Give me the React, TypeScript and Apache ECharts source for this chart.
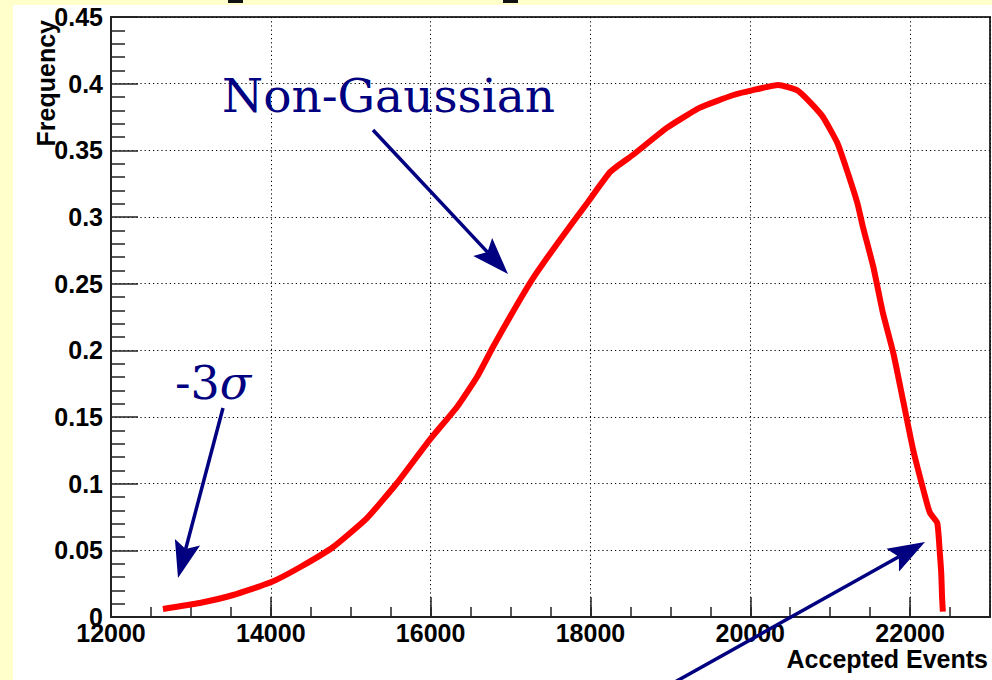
import React, { useEffect, useRef } from "react";
import * as echarts from "echarts";

// ---- data ----
const acceptedEvents = [
  12650, 13110, 13530, 14000, 14370, 14780, 15200, 15580, 15990, 16330, 16580,
  16780, 17030, 17280, 17620, 17960, 18250, 18530, 18960, 19370, 19790, 20020,
  20350, 20590, 20750, 20910, 21090, 21210, 21340, 21410, 21540, 21660, 21790,
  21910, 22040, 22210, 22250, 22340, 22370, 22390, 22400, 22410,
];
const frequency = [
  0.006, 0.0105, 0.0165, 0.026, 0.0375, 0.0525, 0.074, 0.1005, 0.133, 0.1575,
  0.18, 0.2025, 0.229, 0.254, 0.283, 0.3105, 0.334, 0.3465, 0.367, 0.382,
  0.3915, 0.395, 0.399, 0.395, 0.386, 0.375, 0.3555, 0.335, 0.3105, 0.2925,
  0.2625, 0.228, 0.198, 0.163, 0.125, 0.0855, 0.078, 0.0705, 0.05, 0.033, 0.015,
  0.004,
];
const xMajorTicks = [12000, 14000, 16000, 18000, 20000, 22000];
const xRange = [12000, 23000];
const xMinorStep = 500;
const yMajorTicks = [0, 0.05, 0.1, 0.15, 0.2, 0.25, 0.3, 0.35, 0.4, 0.45];
const xTitle = "Accepted Events";
const yTitle = "Frequency";
const annotationMain = "Non-Gaussian";

const NAVY = "#000080";
const AXIS = "#222";
const SANS = "'Liberation Sans', Arial, Helvetica, sans-serif";
const SERIF = "'DejaVu Serif', serif";

function arrow(x1: number, y1: number, x2: number, y2: number) {
  const headLen = 37;
  const halfW = 13;
  const notch = 7;
  const dx = x2 - x1;
  const dy = y2 - y1;
  const L = Math.hypot(dx, dy);
  const ux = dx / L;
  const uy = dy / L;
  const px = -uy;
  const py = ux;
  const bx = x2 - ux * headLen;
  const by = y2 - uy * headLen;
  const nx = x2 - ux * (headLen - notch);
  const ny = y2 - uy * (headLen - notch);
  return [
    {
      type: "line",
      z: 100,
      shape: { x1, y1, x2: nx, y2: ny },
      style: { stroke: NAVY, lineWidth: 3.5 },
    },
    {
      type: "polygon",
      z: 100,
      shape: {
        points: [
          [x2, y2],
          [bx + px * halfW, by + py * halfW],
          [nx, ny],
          [bx - px * halfW, by - py * halfW],
        ],
      },
      style: { fill: NAVY },
    },
  ];
}

export default function App() {
  const ref = useRef<HTMLDivElement>(null);
  useEffect(() => {
    if (!ref.current) return;
    const chart = echarts.init(ref.current, undefined, { renderer: "svg" });
    const data = acceptedEvents.map((x, i) => [x, frequency[i]]);
    const labelStyle = {
      fontFamily: SANS,
      fontWeight: "bold" as const,
      fontSize: 25,
      color: "#000",
    };
    const gridBox = {
      left: 111,
      top: 17,
      right: 2,
      bottom: 63,
      containLabel: false,
      outerBoundsMode: "none",
    };
    chart.setOption({
      animation: false,
      backgroundColor: "transparent",
      grid: [
        {
          ...gridBox,
          show: true,
          borderColor: "#333",
          borderWidth: 2,
          backgroundColor: "transparent",
        },
        { ...gridBox, show: false },
      ],
      xAxis: [
        {
          type: "value",
          gridIndex: 0,
          position: "bottom",
          min: xRange[0],
          max: xRange[1],
          interval: xMajorTicks[1] - xMajorTicks[0],
          axisLine: { show: true, onZero: false, lineStyle: { color: AXIS, width: 2 } },
          axisTick: { show: true, inside: true, length: 20, lineStyle: { color: AXIS, width: 1.5 } },
          axisLabel: {
            ...labelStyle,
            margin: 3,
            showMaxLabel: false,
            formatter: (v: number) => (xMajorTicks.includes(v) ? String(v) : ""),
          },
          splitLine: { show: true, lineStyle: { color: "#000", width: 1, type: [1.2, 3] } },
        },
        {
          type: "value",
          gridIndex: 1,
          position: "bottom",
          min: xRange[0],
          max: xRange[1],
          interval: xMinorStep,
          axisLine: { show: true, onZero: false, lineStyle: { color: AXIS, width: 2 } },
          axisTick: { show: true, inside: true, length: 10, lineStyle: { color: AXIS, width: 1.5 } },
          axisLabel: { show: false },
          splitLine: { show: false },
        },
      ],
      yAxis: [
        {
          type: "value",
          gridIndex: 0,
          min: yMajorTicks[0],
          max: yMajorTicks[yMajorTicks.length - 1],
          interval: yMajorTicks[1] - yMajorTicks[0],
          axisLine: { show: true, onZero: false, lineStyle: { color: AXIS, width: 2 } },
          axisTick: { show: true, inside: true, length: 27, lineStyle: { color: AXIS, width: 1.5 } },
          minorTick: { show: true, splitNumber: 5, length: 14, lineStyle: { color: AXIS, width: 1.5 } },
          axisLabel: {
            ...labelStyle,
            margin: 8,
            formatter: (v: number) => String(parseFloat(v.toFixed(2))),
          },
          splitLine: { show: true, lineStyle: { color: "#000", width: 1, type: [1.2, 3] } },
        },
        {
          type: "value",
          gridIndex: 1,
          min: yMajorTicks[0],
          max: yMajorTicks[yMajorTicks.length - 1],
          show: false,
        },
      ],
      series: [
        {
          type: "line",
          xAxisIndex: 0,
          yAxisIndex: 0,
          data,
          showSymbol: false,
          smooth: 0.15,
          lineStyle: { color: "#ff0000", width: 6, cap: "butt" },
          z: 5,
        },
      ],
      graphic: [
        {
          type: "text",
          z: 100,
          x: 46,
          y: 20,
          rotation: Math.PI / 2,
          style: {
            text: yTitle,
            fill: "#000",
            fontFamily: SANS,
            fontWeight: "bold",
            fontSize: 25,
            align: "right",
            verticalAlign: "middle",
          },
        },
        {
          type: "text",
          z: 100,
          x: 988,
          y: 659,
          style: {
            text: xTitle,
            fill: "#000",
            fontFamily: SANS,
            fontWeight: "bold",
            fontSize: 25,
            align: "right",
            verticalAlign: "middle",
          },
        },
        {
          type: "text",
          z: 100,
          x: 222,
          y: 95,
          style: {
            text: annotationMain,
            fill: NAVY,
            fontFamily: SERIF,
            fontSize: 47,
            align: "left",
            verticalAlign: "middle",
          },
        },
        {
          type: "text",
          z: 100,
          x: 175,
          y: 383,
          style: {
            text: "{a|-3}{b|σ}",
            fill: NAVY,
            align: "left",
            verticalAlign: "middle",
            rich: {
              a: { fontFamily: SERIF, fontSize: 46, fill: NAVY },
              b: { fontFamily: SERIF, fontSize: 46, fontStyle: "italic", fill: NAVY },
            },
          },
        },
        ...arrow(373, 130, 508, 274),
        ...arrow(223, 408, 178, 578),
        ...arrow(650, 696, 925, 542),
        { type: "rect", z: 100, shape: { x: 228, y: 0, width: 15, height: 3 }, style: { fill: "#111" } },
        { type: "rect", z: 100, shape: { x: 503, y: 0, width: 15, height: 3 }, style: { fill: "#111" } },
      ],
    });
    return () => chart.dispose();
  }, []);

  return (
    <div style={{ position: "fixed", left: 0, top: 0, width: 992, height: 680, background: "#FFFFCC", overflow: "hidden" }}>
      <div style={{ position: "absolute", left: 13, top: 5, right: 0, bottom: 0, background: "#fff" }} />
      <div ref={ref} style={{ position: "absolute", left: 0, top: 0, width: 992, height: 680 }} />
    </div>
  );
}
